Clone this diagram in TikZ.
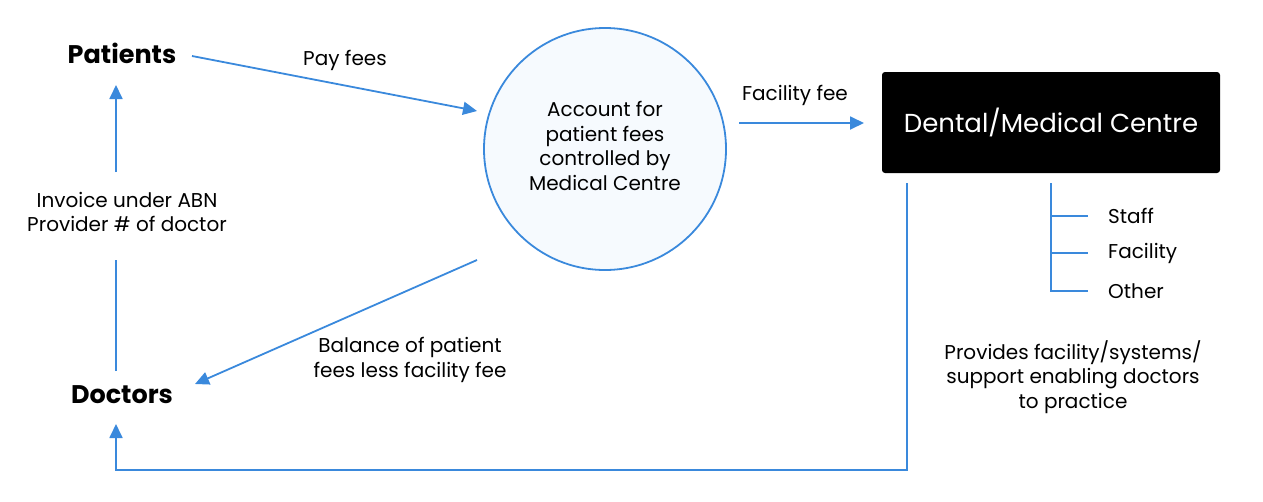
\documentclass[tikz,border=0pt]{standalone}
\usepackage{fontspec}
\setmainfont{Poppins}
\usetikzlibrary{arrows.meta}
\definecolor{lblue}{HTML}{3A89DC}
\definecolor{cfill}{HTML}{F6FAFE}
\tikzset{
  flow/.style={draw=lblue, line width=1.8pt, -{Triangle[length=14pt,width=13pt]}},
  plain/.style={draw=lblue, line width=1.8pt},
  lbl/.style={font=\fontsize{20}{24.5}\selectfont, align=center, inner sep=0pt},
  actor/.style={font=\fontsize{25.5}{30}\selectfont\bfseries, inner sep=0pt},
}
\begin{document}
\begin{tikzpicture}[x=1pt,y=-1pt]
\useasboundingbox (0,0) rectangle (1263,501);
\node[actor] (pat) at (122,53) {Patients};
\node[actor] (doc) at (122,395) {Doctors};
\node[circle, draw=lblue, line width=1.8pt, fill=cfill, minimum size=242pt, inner sep=0pt] (acc) at (605,149) {};
\node[lbl] (acct) at (605,146) {Account for\\patient fees\\controlled by\\Medical Centre};
\node[fill=black, rounded corners=3pt, minimum width=338pt, minimum height=101pt, inner sep=0pt] (dmc) at (1051,122.5) {};
\node[text=white, font=\fontsize{26}{30}\selectfont, inner sep=0pt] (dmct) at (1051,122) {Dental/Medical Centre};
\node[lbl] (payl) at (345,60) {Pay fees};
\node[lbl] (facl) at (795,95) {Facility fee};
\node[lbl] (invl) at (127,212) {Invoice under ABN\\Provider \# of doctor};
\node[lbl] (ball) at (410,360) {Balance of patient\\fees less facility fee};
\node[lbl] (provl) at (1073,377) {Provides facility/systems/\\support enabling doctors\\to practice};
\node[lbl, anchor=west] (staff) at (1108,216) {Staff};
\node[lbl, anchor=west] (facil) at (1108,253) {Facility};
\node[lbl, anchor=west] (other) at (1108,291) {Other};
% coordinates
\coordinate (p1) at (192,56);
\coordinate (p2) at (477,111);
\coordinate (f1) at (739,123);
\coordinate (f2) at (864,123);
\coordinate (b1) at (477,260);
\coordinate (b2) at (195,384);
\coordinate (i1) at (116,172);
\coordinate (i2) at (116,85);
\coordinate (i3) at (116,371);
\coordinate (i4) at (116,260);
\coordinate (s1) at (907,183);
\coordinate (s2) at (907,470);
\coordinate (s3) at (116,470);
\coordinate (s4) at (116,424);
\coordinate (t0) at (1051,183);
\coordinate (t1) at (1051,216);
\coordinate (t2) at (1051,253);
\coordinate (t3) at (1051,291);
\draw[flow] (p1) -- (p2);
\draw[flow] (f1) -- (f2);
\draw[flow] (b1) -- (b2);
\draw[flow] (i1) -- (i2);
\draw[plain] (i3) -- (i4);
\draw[flow] (s1) -- (s2) -- (s3) -- (s4);
\draw[plain] (t0) -- (t3) -- (t3 -| 1088,0);
\draw[plain] (t1) -- (t1 -| 1088,0);
\draw[plain] (t2) -- (t2 -| 1088,0);
\end{tikzpicture}
\end{document}
